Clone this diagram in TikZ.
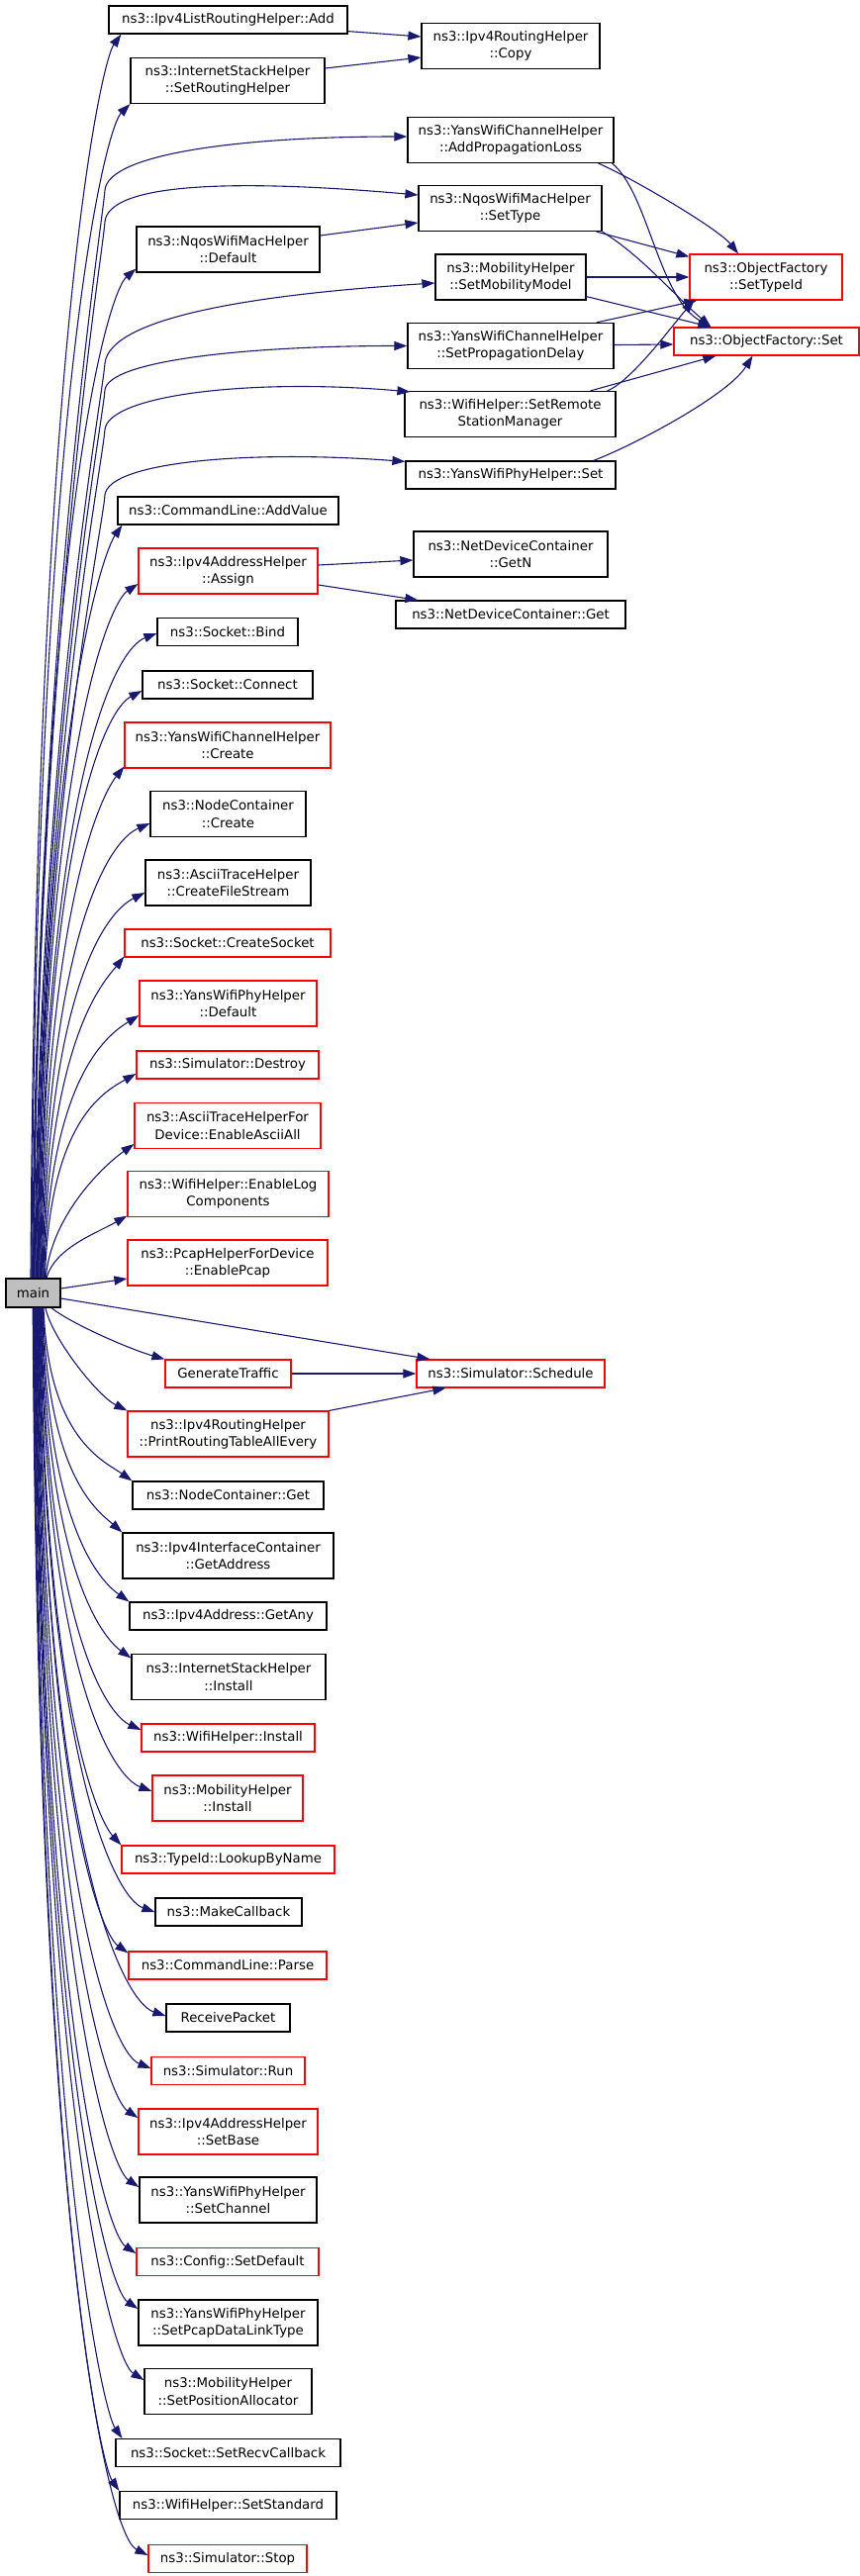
\documentclass[tikz,border=0pt]{standalone}
\usepackage{fontspec}
\setmainfont{DejaVu Sans}
\usetikzlibrary{arrows.meta}
\definecolor{navy}{HTML}{191970}
\definecolor{maingray}{HTML}{BFBFBF}
\begin{document}
\begin{tikzpicture}[x=1pt,y=-1pt,
  blk/.style={draw=black, line width=1.2pt, fill=white, inner sep=0pt, minimum height=28pt, align=center, font=\fontsize{13.33}{17.3}\selectfont},
  redb/.style={blk, draw=red},
  twol/.style={minimum height=46pt},
  calledge/.style={draw=navy, line width=1.1pt, -{Triangle[length=13pt,width=9pt]}}]
\fill[white] (0,0) rectangle (869,2603);
\useasboundingbox (0,0) rectangle (869,2603);

% main
\node[blk, fill=maingray, minimum width=55pt, minimum height=29pt] (main) at (33.5,1306.5) {main};

% left column
\node[blk, minimum width=241pt] (add) at (230.5,20) {ns3::Ipv4ListRoutingHelper::Add};
\node[blk, twol, minimum width=196pt] (srh) at (230,81.5) {ns3::InternetStackHelper\\::SetRoutingHelper};
\node[blk, twol, minimum width=185pt] (default) at (230.5,252) {ns3::NqosWifiMacHelper\\::Default};
\node[blk, minimum width=223pt] (addvalue) at (230.5,516) {ns3::CommandLine::AddValue};
\node[redb, twol, minimum width=181pt] (assign) at (230.5,577) {ns3::Ipv4AddressHelper\\::Assign};
\node[blk, minimum width=142pt] (bind) at (230,638.5) {ns3::Socket::Bind};
\node[blk, minimum width=172pt] (connect) at (230,692) {ns3::Socket::Connect};
\node[redb, twol, minimum width=208pt] (ywchcreate) at (230,753) {ns3::YansWifiChannelHelper\\::Create};
\node[blk, twol, minimum width=157pt] (nccreate) at (230.5,822.5) {ns3::NodeContainer\\::Create};
\node[blk, twol, minimum width=167pt] (cfs) at (230.5,892) {ns3::AsciiTraceHelper\\::CreateFileStream};
\node[redb, minimum width=208pt] (createsocket) at (230,953) {ns3::Socket::CreateSocket};
\node[redb, twol, minimum width=179pt] (ywphdefault) at (230.5,1014) {ns3::YansWifiPhyHelper\\::Default};
\node[redb, minimum width=184pt] (destroy) at (230,1076) {ns3::Simulator::Destroy};
\node[redb, twol, minimum width=188pt] (eaa) at (230,1137.5) {ns3::AsciiTraceHelperFor\\Device::EnableAsciiAll};
\node[redb, twol, minimum width=203pt] (elog) at (230.5,1206.5) {ns3::WifiHelper::EnableLog\\Components};
\node[redb, twol, minimum width=202pt] (pcap) at (230,1276) {ns3::PcapHelperForDevice\\::EnablePcap};
\node[redb, minimum width=127pt] (gt) at (230.5,1388) {GenerateTraffic};
\node[redb, twol, minimum width=203pt] (pr) at (230.5,1449) {ns3::Ipv4RoutingHelper\\::PrintRoutingTableAllEvery};
\node[blk, minimum width=193pt] (ncget) at (230.5,1511) {ns3::NodeContainer::Get};
\node[blk, twol, minimum width=213pt] (getaddr) at (230.5,1572) {ns3::Ipv4InterfaceContainer\\::GetAddress};
\node[blk, minimum width=199pt] (getany) at (230.5,1633) {ns3::Ipv4Address::GetAny};
\node[blk, twol, minimum width=196pt] (ishinst) at (231,1694.5) {ns3::InternetStackHelper\\::Install};
\node[redb, minimum width=175pt] (whinst) at (230.5,1756) {ns3::WifiHelper::Install};
\node[redb, twol, minimum width=152pt] (mhinst) at (230,1817) {ns3::MobilityHelper\\::Install};
\node[redb, minimum width=215pt] (lbn) at (230.5,1879) {ns3::TypeId::LookupByName};
\node[blk, minimum width=148pt] (mc) at (231,1932) {ns3::MakeCallback};
\node[redb, minimum width=200pt] (parse) at (230,1986) {ns3::CommandLine::Parse};
\node[blk, minimum width=125pt] (rp) at (230.5,2039) {ReceivePacket};
\node[redb, minimum width=155pt] (run) at (230.5,2092.5) {ns3::Simulator::Run};
\node[redb, twol, minimum width=181pt] (setbase) at (230.5,2154) {ns3::Ipv4AddressHelper\\::SetBase};
\node[blk, twol, minimum width=179pt] (setchan) at (230.5,2223) {ns3::YansWifiPhyHelper\\::SetChannel};
\node[redb, minimum width=184pt] (setdef) at (230,2285.5) {ns3::Config::SetDefault};
\node[blk, twol, minimum width=181pt] (spdlt) at (230.5,2347) {ns3::YansWifiPhyHelper\\::SetPcapDataLinkType};
\node[blk, twol, minimum width=169pt] (spa) at (230.5,2416.5) {ns3::MobilityHelper\\::SetPositionAllocator};
\node[blk, minimum width=227pt] (src) at (230.5,2478.5) {ns3::Socket::SetRecvCallback};
\node[blk, minimum width=219pt] (setstd) at (230.5,2531.5) {ns3::WifiHelper::SetStandard};
\node[redb, minimum width=160pt] (stop) at (230,2585.5) {ns3::Simulator::Stop};

% middle column
\node[blk, twol, minimum width=180pt] (copy) at (516,46.5) {ns3::Ipv4RoutingHelper\\::Copy};
\node[blk, twol, minimum width=208pt] (apl) at (516,141.5) {ns3::YansWifiChannelHelper\\::AddPropagationLoss};
\node[blk, twol, minimum width=185pt] (settype) at (515.5,210.5) {ns3::NqosWifiMacHelper\\::SetType};
\node[blk, twol, minimum width=152pt] (smm) at (516,280) {ns3::MobilityHelper\\::SetMobilityModel};
\node[blk, twol, minimum width=208pt] (spd) at (516,349.5) {ns3::YansWifiChannelHelper\\::SetPropagationDelay};
\node[blk, twol, minimum width=213pt] (srsm) at (515.5,418.5) {ns3::WifiHelper::SetRemote\\StationManager};
\node[blk, minimum width=212pt] (ywphset) at (516,480) {ns3::YansWifiPhyHelper::Set};
\node[blk, twol, minimum width=196pt] (getn) at (516,560) {ns3::NetDeviceContainer\\::GetN};
\node[blk, minimum width=232pt] (ndcget) at (516,621) {ns3::NetDeviceContainer::Get};
\node[redb, minimum width=190pt] (sched) at (516,1388) {ns3::Simulator::Schedule};

% right column
\node[redb, twol, minimum width=154pt] (stid) at (774,280) {ns3::ObjectFactory\\::SetTypeId};
\node[redb, minimum width=187pt] (ofset) at (774.5,345) {ns3::ObjectFactory::Set};

% main -> targets above
\draw[calledge] ([xshift=-2.5pt]main.north) .. controls +(5,-944) and +(-20,28) .. ([xshift=13pt]add.south west);
\draw[calledge] ([xshift=-1.7pt]main.north) .. controls +(5,-892) and +(-25,25) .. (srh.south west);
\draw[calledge] ([xshift=-0.9pt]main.north) .. controls +(5,-660) and +(-3,40) .. (106,192) .. controls +(4,-38) and +(-160,0) .. ([yshift=3.5pt]apl.west);
\draw[calledge] ([xshift=-0.1pt]main.north) .. controls +(5,-641) and +(-3,40) .. (106,224) .. controls +(4,-38) and +(-193,-17) .. ([yshift=13.5pt]settype.west);
\draw[calledge] ([xshift=0.7pt]main.north) .. controls +(5,-766) and +(-28,24) .. ([yshift=4pt]default.south west);
\draw[calledge] ([xshift=1.5pt]main.north) .. controls +(5,-555) and +(-3,40) .. (106,367) .. controls +(5,-45) and +(-190,12) .. ([yshift=-6pt]smm.west);
\draw[calledge] ([xshift=2.3pt]main.north) .. controls +(5,-539) and +(-3,40) .. (106,394) .. controls +(4,-30) and +(-160,0) .. (spd.west);
\draw[calledge] ([xshift=3.1pt]main.north) .. controls +(5,-515) and +(-3,40) .. (106,434) .. controls +(4,-35) and +(-160,-14) .. ([shift={(6,1)}]srsm.north west);
\draw[calledge] ([xshift=3.9pt]main.north) .. controls +(5,-475) and +(-3,40) .. (106,500) .. controls +(4,-33) and +(-160,-12) .. ([shift={(0,1)}]ywphset.north west);
\draw[calledge] ([xshift=4.7pt]main.north) .. controls +(5,-571) and +(-18,26) .. ([xshift=5pt]addvalue.south west);
\draw[calledge] ([xshift=5.5pt]main.north) .. controls +(5,-526) and +(-30,20) .. ([yshift=-13pt]assign.west);
\draw[calledge] ([xshift=6.3pt]main.north) .. controls +(5,-489) and +(-45,17) .. ([yshift=-1.5pt]bind.west);
\draw[calledge] ([xshift=7.1pt]main.north) .. controls +(5,-445) and +(-38,20) .. ([yshift=-6pt]connect.west);
\draw[calledge] ([xshift=7.9pt]main.north) .. controls +(5,-388) and +(-20,25) .. ([yshift=2pt]ywchcreate.south west);
\draw[calledge] ([xshift=8.7pt]main.north) .. controls +(5,-345) and +(-42,18) .. ([yshift=-9.5pt]nccreate.west);
\draw[calledge] ([xshift=9.5pt]main.north) .. controls +(5,-292) and +(-40,20) .. ([yshift=-10pt]cfs.west);
\draw[calledge] ([xshift=10.3pt]main.north) .. controls +(5,-244) and +(-20,25) .. ([yshift=1pt]createsocket.south west);
\draw[calledge] ([xshift=11.1pt]main.north) .. controls +(5,-200) and +(-34,21) .. ([yshift=-12pt]ywphdefault.west);
\draw[calledge] ([xshift=11.9pt]main.north) .. controls +(5,-155) and +(-36,20) .. ([yshift=-9pt]destroy.west);
\draw[calledge] ([xshift=12.7pt]main.north) .. controls +(5,-60) and +(-35,25) .. ([yshift=-18.5pt]eaa.west);
\draw[calledge] ([xshift=13.5pt]main.north) .. controls +(8,-30) and +(-32,18) .. ([yshift=1.5pt]elog.south west);
\draw[calledge] ([yshift=4.5pt]main.east) -- ([yshift=-16pt]pcap.west);

% main -> targets below
\draw[calledge] ([yshift=-5.5pt]main.east) -- ([xshift=14pt]sched.north west);
\draw[calledge] ([xshift=18.5pt]main.south) .. controls +(20,16) and +(-35,-10) .. (gt.north west);
\draw[calledge] ([xshift=12.5pt]main.south) .. controls +(6,30) and +(-30,-15) .. (pr.north west);
\draw[calledge] ([xshift=10.5pt]main.south) .. controls +(5,133) and +(-28,-20) .. (ncget.north west);
\draw[calledge] ([xshift=9.9pt]main.south) .. controls +(5,171) and +(-25,-22) .. (getaddr.north west);
\draw[calledge] ([xshift=9.3pt]main.south) .. controls +(5,224) and +(-28,-20) .. (getany.north west);
\draw[calledge] ([xshift=8.7pt]main.south) .. controls +(5,266) and +(-28,-20) .. ([yshift=-4.5pt]ishinst.north west);
\draw[calledge] ([xshift=8.1pt]main.south) .. controls +(5,320) and +(-35,-16) .. ([yshift=8pt]whinst.west);
\draw[calledge] ([xshift=7.5pt]main.south) .. controls +(5,367) and +(-40,-15) .. ([yshift=7pt]mhinst.west);
\draw[calledge] ([xshift=6.9pt]main.south) .. controls +(5,408) and +(-22,-24) .. (lbn.north west);
\draw[calledge] ([xshift=6.3pt]main.south) .. controls +(5,458) and +(-40,-14) .. (mc.west);
\draw[calledge] ([xshift=5.7pt]main.south) .. controls +(5,490) and +(-28,-20) .. ([yshift=-2pt]parse.north west);
\draw[calledge] ([xshift=5.1pt]main.south) .. controls +(5,538) and +(-45,-15) .. ([yshift=2pt]rp.west);
\draw[calledge] ([xshift=4.5pt]main.south) .. controls +(5,578) and +(-40,-16) .. ([yshift=2.5pt]run.west);
\draw[calledge] ([xshift=3.9pt]main.south) .. controls +(5,615) and +(-30,-20) .. ([yshift=14pt]setbase.west);
\draw[calledge] ([xshift=3.3pt]main.south) .. controls +(5,667) and +(-30,-20) .. ([yshift=13pt]setchan.west);
\draw[calledge] ([xshift=2.7pt]main.south) .. controls +(5,718) and +(-30,-20) .. ([yshift=8.5pt]setdef.west);
\draw[calledge] ([xshift=2.1pt]main.south) .. controls +(5,760) and +(-30,-20) .. ([yshift=14pt]spdlt.west);
\draw[calledge] ([xshift=1.5pt]main.south) .. controls +(5,813) and +(-32,-20) .. ([yshift=11.5pt]spa.west);
\draw[calledge] ([xshift=0.9pt]main.south) .. controls +(5,857) and +(-18,-26) .. ([xshift=7pt]src.north west);
\draw[calledge] ([xshift=0.3pt]main.south) .. controls +(5,898) and +(-18,-26) .. (setstd.north west);
\draw[calledge] ([xshift=-0.3pt]main.south) .. controls +(5,946) and +(-40,-20) .. ([yshift=3.5pt]stop.west);

% second level
\draw[calledge] ([yshift=3pt]add.south east) -- ([yshift=9.5pt]copy.west);
\draw[calledge] ([yshift=12.5pt]srh.east) -- ([yshift=-11.5pt]copy.west);
\draw[calledge] ([yshift=14pt]default.east) -- ([yshift=-14.5pt]settype.west);
\draw[calledge] ([yshift=6pt]assign.east) -- ([yshift=-6pt]getn.west);
\draw[calledge] ([yshift=-14pt]assign.east) -- ([xshift=23pt]ndcget.north west);
\draw[calledge] (gt.east) -- (sched.west);
\draw[calledge] (pr.north east) -- ([xshift=30pt]sched.south west);

% third level
\draw[calledge] ([xshift=-16pt]apl.south east) .. controls +(35,15) and +(-20,-25) .. ([xshift=-28pt]stid.north);
\draw[calledge] ([xshift=-2pt]apl.south east) .. controls (655,195) and (665,300) .. ([xshift=38pt]ofset.north west);
\draw[calledge] ([xshift=-6pt]settype.south east) -- ([yshift=-3pt]stid.north west);
\draw[calledge] (settype.south east) .. controls +(40,25) and +(-40,-35) .. ([xshift=38pt]ofset.north west);
\draw[calledge] (smm.east) -- (stid.west);
\draw[calledge] ([yshift=4pt]smm.south east) -- ([xshift=38pt]ofset.north west);
\draw[calledge] ([xshift=-18pt]spd.north east) -- ([xshift=8pt]stid.south west);
\draw[calledge] ([yshift=1pt]spd.east) -- ([yshift=-3pt]ofset.west);
\draw[calledge] ([xshift=-9pt]srsm.north east) .. controls +(25,-10) and +(-22,25) .. ([xshift=5pt]stid.south west);
\draw[calledge] ([xshift=-26pt]srsm.north east) -- ([xshift=43pt]ofset.south west);
\draw[calledge] ([xshift=-23pt]ywphset.north east) .. controls +(40,-15) and +(-25,40) .. ([xshift=-14pt]ofset.south);
\end{tikzpicture}
\end{document}
